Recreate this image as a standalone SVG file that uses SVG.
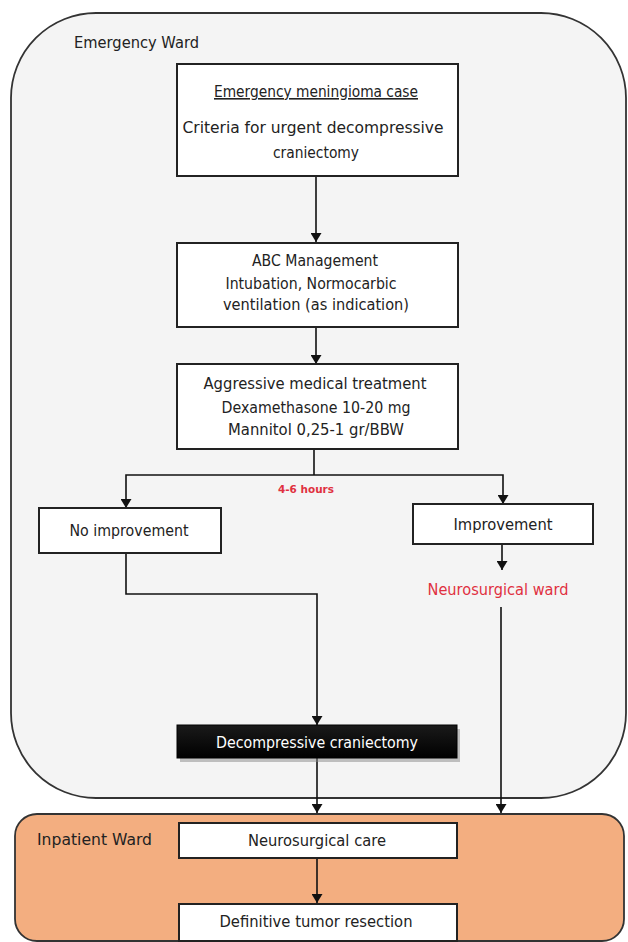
<svg xmlns="http://www.w3.org/2000/svg" width="628" height="942" viewBox="0 0 628 942">
<defs>
<marker id="arr" markerWidth="9" markerHeight="11" refX="9" refY="5.5" orient="auto" markerUnits="userSpaceOnUse" viewBox="0 0 9 11">
<path d="M0,0 L9,5.5 L0,11 z" fill="#111"/>
</marker>
<linearGradient id="blk" x1="0" y1="0" x2="0" y2="1">
<stop offset="0" stop-color="#1a1a1a"/>
<stop offset="1" stop-color="#000"/>
</linearGradient>
</defs>
<style>
.t{font-family:"DejaVu Sans","Liberation Sans",sans-serif;font-size:16px;fill:#222;text-anchor:middle}
.lbl{font-family:"DejaVu Sans","Liberation Sans",sans-serif;font-size:15px;fill:#222}
.red{fill:#e0303f}
.box{fill:#fff;stroke:#222;stroke-width:2}
.c{fill:none;stroke:#111;stroke-width:1.6}
</style>
<rect width="628" height="942" fill="#fff"/>
<g id="emergency-ward">
<rect x="11" y="13" width="615" height="785" rx="85" ry="85" fill="#f4f4f4" stroke="#333" stroke-width="1.8"/>
<text class="lbl" x="74" y="48" textLength="125" lengthAdjust="spacingAndGlyphs">Emergency Ward</text>
</g>
<g id="inpatient-ward">
<rect x="15" y="814" width="609" height="127" rx="22" ry="22" fill="#f3ae80" stroke="#333" stroke-width="1.8"/>
<text class="lbl" x="37" y="845" textLength="115" lengthAdjust="spacingAndGlyphs">Inpatient Ward</text>
</g>
<g id="connectors">
<path class="c" d="M316,176 V242" marker-end="url(#arr)"/>
<path class="c" d="M316,327 V364" marker-end="url(#arr)"/>
<path class="c" d="M314,449 V475"/>
<path class="c" d="M314,475 H126 V508" marker-end="url(#arr)"/>
<path class="c" d="M314,475 H503 V504" marker-end="url(#arr)"/>
<path class="c" d="M502,544 V570" marker-end="url(#arr)"/>
<path class="c" d="M126,553 V594 H317 V725" marker-end="url(#arr)"/>
<path class="c" d="M317,758 V813" marker-end="url(#arr)"/>
<path class="c" d="M501,607 V813" marker-end="url(#arr)"/>
<path class="c" d="M317,858 V903" marker-end="url(#arr)"/>
<text class="t red" x="306" y="493" style="font-size:10px;font-weight:bold" textLength="56" lengthAdjust="spacingAndGlyphs">4-6 hours</text>
</g>
<g id="n-case">
<rect class="box" x="177" y="64" width="281" height="112"/>
<text class="t" x="316" y="97" text-decoration="underline" textLength="204" lengthAdjust="spacingAndGlyphs">Emergency meningioma case</text>
<text class="t" x="313" y="133" textLength="261" lengthAdjust="spacingAndGlyphs">Criteria for urgent decompressive</text>
<text class="t" x="316" y="158" textLength="86" lengthAdjust="spacingAndGlyphs">craniectomy</text>
</g>
<g id="n-abc">
<rect class="box" x="177" y="243" width="281" height="84"/>
<text class="t" x="315" y="266" textLength="126" lengthAdjust="spacingAndGlyphs">ABC Management</text>
<text class="t" x="311" y="289" textLength="171" lengthAdjust="spacingAndGlyphs">Intubation, Normocarbic</text>
<text class="t" x="316" y="310" textLength="186" lengthAdjust="spacingAndGlyphs">ventilation (as indication)</text>
</g>
<g id="n-medical">
<rect class="box" x="177" y="364" width="281" height="85"/>
<text class="t" x="315" y="389" textLength="223" lengthAdjust="spacingAndGlyphs">Aggressive medical treatment</text>
<text class="t" x="316" y="413" textLength="189" lengthAdjust="spacingAndGlyphs">Dexamethasone 10-20 mg</text>
<text class="t" x="316" y="435" textLength="176" lengthAdjust="spacingAndGlyphs">Mannitol 0,25-1 gr/BBW</text>
</g>
<g id="n-noimprove">
<rect class="box" x="39" y="508" width="182" height="45"/>
<text class="t" x="129" y="536" textLength="119" lengthAdjust="spacingAndGlyphs">No improvement</text>
</g>
<g id="n-improve">
<rect class="box" x="413" y="504" width="180" height="40"/>
<text class="t" x="503" y="530" textLength="99" lengthAdjust="spacingAndGlyphs">Improvement</text>
</g>
<g id="n-neuroward">
<text class="t red" x="498" y="595" textLength="141" lengthAdjust="spacingAndGlyphs">Neurosurgical ward</text>
</g>
<g id="n-decomp">
<rect x="180" y="729" width="280" height="33" fill="#888" opacity="0.5"/>
<rect x="177" y="725" width="280" height="33" fill="url(#blk)" stroke="#000" stroke-width="1"/>
<text class="t" x="317" y="748" style="fill:#fff" textLength="202" lengthAdjust="spacingAndGlyphs">Decompressive craniectomy</text>
</g>
<g id="n-care">
<rect class="box" x="179" y="823" width="278" height="35"/>
<text class="t" x="317" y="846" textLength="138" lengthAdjust="spacingAndGlyphs">Neurosurgical care</text>
</g>
<g id="n-resection">
<rect class="box" x="179" y="904" width="278" height="37"/>
<text class="t" x="316" y="927" textLength="193" lengthAdjust="spacingAndGlyphs">Definitive tumor resection</text>
</g>
</svg>
